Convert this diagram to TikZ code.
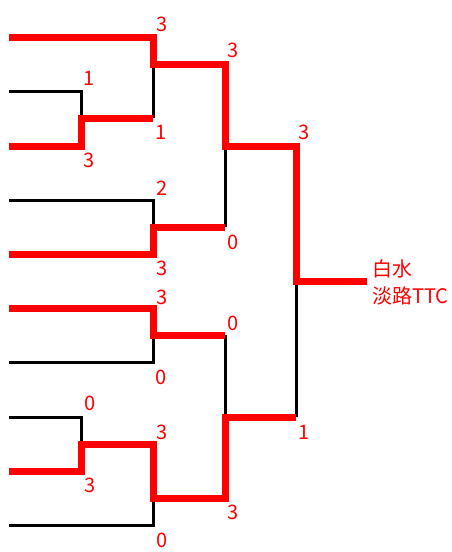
\documentclass[tikz,border=0pt]{standalone}
\usepackage{fontspec}
\setmainfont{Noto Sans CJK JP}
\definecolor{wred}{RGB}{255,0,0}
\begin{document}
\begin{tikzpicture}[x=1pt,y=-1pt,
  loss/.style={draw=black,line width=3pt,line join=miter,line cap=butt},
  win/.style={draw=wred,line width=7pt,line join=miter,line cap=butt},
  score/.style={text=wred,font=\fontsize{20}{24}\selectfont,inner sep=0pt,anchor=center},
  winner/.style={text=wred,font=\fontsize{20}{24}\selectfont,inner sep=0pt,anchor=base west}]
\useasboundingbox (0,0) rectangle (451,552);
% team line starts
\coordinate (t1) at (9,37);
\coordinate (t2) at (9,91);
\coordinate (t3) at (9,146);
\coordinate (t4) at (9,200);
\coordinate (t5) at (9,254);
\coordinate (t6) at (9,308);
\coordinate (t7) at (9,362);
\coordinate (t8) at (9,417);
\coordinate (t9) at (9,471);
\coordinate (t10) at (9,525);
% bracket corners
\coordinate (a1) at (81,91);  \coordinate (a2) at (81,146); \coordinate (ao) at (81,118);
\coordinate (b1) at (153,37); \coordinate (b2) at (153,118); \coordinate (bo) at (153,64);
\coordinate (c1) at (153,200); \coordinate (c2) at (153,254); \coordinate (co) at (153,227);
\coordinate (d1) at (225,64); \coordinate (d2) at (225,227); \coordinate (do) at (225,146);
\coordinate (e1) at (153,308); \coordinate (e2) at (153,362); \coordinate (eo) at (153,335);
\coordinate (f1) at (81,417); \coordinate (f2) at (81,471); \coordinate (fo) at (81,444);
\coordinate (g1) at (153,444); \coordinate (g2) at (153,525); \coordinate (go) at (153,498);
\coordinate (h1) at (225,335); \coordinate (h2) at (225,498); \coordinate (ho) at (225,417);
\coordinate (k1) at (296,146); \coordinate (k2) at (296,417); \coordinate (ko) at (296,281);
\coordinate (champ) at (367,281);
% black (losing) lines
\draw[loss] (t2) -- (a1) -- (a2);
\draw[loss] (b1) -- (b2);
\draw[loss] (t4) -- (c1) -- (c2);
\draw[loss] (d1) -- (d2);
\draw[loss] (e1) -- (e2) -- (t7);
\draw[loss] (t8) -- (f1) -- (f2);
\draw[loss] (g1) -- (g2) -- (t10);
\draw[loss] (h1) -- (h2);
\draw[loss] (k1) -- (k2);
% red (winning) lines
\draw[win] (t1) -- (b1) -- (bo) -- (d1) -- (do) -- (k1) -- (ko) -- (champ);
\draw[win] (t3) -- (a2) -- (ao) -- (b2);
\draw[win] (t5) -- (c2) -- (co) -- (d2);
\draw[win] (t6) -- (e1) -- (eo) -- (h1);
\draw[win] (t9) -- (f2) -- (fo) -- (g1) -- (go) -- (h2) -- (ho) -- (k2);
% scores
\node[score] (s1) at (162,24) {3};
\node[score] (s2) at (233,50) {3};
\node[score] (s3) at (89,78) {1};
\node[score] (s4) at (161,132) {1};
\node[score] (s5) at (89,160) {3};
\node[score] (s6) at (304,132) {3};
\node[score] (s7) at (162,188) {2};
\node[score] (s8) at (233,242) {0};
\node[score] (s9) at (162,268) {3};
\node[score] (s10) at (162,297) {3};
\node[score] (s11) at (233,323) {0};
\node[score] (s12) at (161,377) {0};
\node[score] (s13) at (304,432) {1};
\node[score] (s14) at (90,403) {0};
\node[score] (s15) at (162,432) {3};
\node[score] (s16) at (90,485) {3};
\node[score] (s17) at (233,512) {3};
\node[score] (s18) at (162,540) {0};
% winner
\node[winner] (w1) at (372,276) {白水};
\node[winner] (w2) at (372,303) {淡路TTC};
\end{tikzpicture}
\end{document}
